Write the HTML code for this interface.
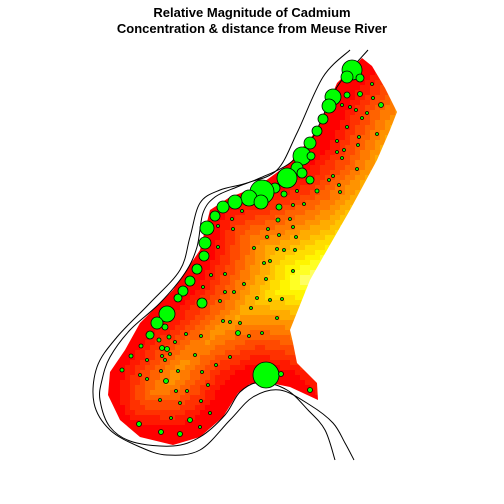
<!DOCTYPE html>
<html><head><meta charset="utf-8"><style>
html,body{margin:0;padding:0;background:#fff;}
svg{display:block;font-family:"Liberation Sans",Arial,sans-serif;}
</style></head><body>
<svg id="chart" width="504" height="504" viewBox="0 0 504 504">
<defs><clipPath id="clip"><polygon id="regionPoly" points=""/></clipPath></defs>
<text x="252" y="17" text-anchor="middle" font-size="13" font-weight="bold">Relative Magnitude of Cadmium</text>
<text x="252" y="33" text-anchor="middle" font-size="13" font-weight="bold">Concentration &amp; distance from Meuse River</text>
<g id="raster" clip-path="url(#clip)"></g>
<g id="rivers"></g>
<g id="bubbles"></g>
</svg>
<script>
const regionPts=[[362,58],[372,66],[385,88],[397,112],[390,130],[377,160],[350,210],[323,257],[310,280],[290,330],[293,343],[297,363],[317,383],[318,400],[290,387],[270,383],[250,384],[238,393],[223,417],[200,437],[173,445],[140,437],[120,420],[108,395],[110,372],[125,350],[140,323],[173,290],[200,250],[210,210],[230,197],[257,187],[290,163],[317,130],[337,83],[357,63]];
const riverA=[[350,50],[323,77],[297,133],[277,170],[247,183],[220,190],[200,203],[190,237],[180,270],[150,303],[117,337],[97,367],[94,403],[110,430],[140,447],[167,455],[200,450],[230,420],[253,397],[280,390],[310,405],[333,423],[345,443],[354,460]];
const riverB=[[368,50],[337,87],[313,137],[290,163],[260,178],[237,187],[215,197],[203,213],[197,247],[185,273],[160,303],[130,330],[110,357],[102,380],[100,400],[110,427],[133,442],[173,446],[200,437],[225,415],[240,392],[260,382],[287,390],[308,410],[325,430],[335,460]];
const bigX=[352,347,360,333,329,323,317,310,302,311,297,302,287,310,275,262,249,261,235,223,215,207,205,204,197,190,183,178,202,167,157,165,150,266,281,284,279,278,317];
const bigY=[70,77,78,97,106,119,131,143,156,156,168,173,178,180,188,192,198,202,202,207,216,228,243,256,269,281,291,298,303,314,323,327,335,375,374,194,207,220,191];
const bigR=[10,6,4,8,7,5,5,6,9,4,6,5,10,4,5,12,8,7,7,6,5,7,6,5,5,5,5,4,5,8,6,3,4,13,2.5,3,3,2,2];
const smallX=[372,347,360,373,381,350,342,356,367,362,347,359,337,377,358,344,337,342,357,333,329,339,340,297,304,293,242,232,290,293,268,218,233,279,267,296,218,254,277,284,295,270,264,293,225,211,266,244,203,234,225,257,270,282,220,251,277,223,230,240,238,262,249,201,186,169,159,175,141,162,167,170,195,230,131,162,147,165,216,122,178,161,202,140,147,166,208,310,176,187,160,180,201,210,171,190,139,200,161,180];
const smallY=[84,95,94,98,105,107,105,110,113,118,127,137,141,134,145,150,152,158,169,176,180,185,192,191,204,205,211,219,219,227,229,226,229,235,237,237,247,248,249,250,250,261,263,271,274,275,279,284,287,292,292,298,300,299,301,308,318,321,322,323,333,333,336,336,334,337,340,342,346,348,349,354,355,357,356,356,360,360,365,370,371,371,372,375,379,381,385,390,391,391,400,403,401,413,418,420,424,427,432,434];
const smallR=[1.5,3,2.5,1.5,2.5,1.5,1.5,1.5,1.5,1.5,1.5,1.5,1.5,1.5,1.5,1.5,1.5,1.5,1.5,1.5,1.5,1.5,1.5,1.5,1.5,1.5,1.5,1.5,1.5,1.5,1.5,1.5,1.5,1.5,1.5,1.5,1.5,1.5,1.5,1.5,1.5,1.5,1.5,1.5,1.5,1.5,1.5,1.5,1.5,1.5,1.5,1.5,1.5,1.5,1.5,1.5,1.5,1.5,1.5,1.5,2.5,1.5,1.5,1.5,1.5,2,2,1.5,2,2.5,2.5,1.5,1.5,1.5,2,1.5,1.5,1.5,1.5,2,1.5,1.5,1.5,1.5,1.5,2.5,1.5,2.5,1.5,1.5,1.5,1.5,1.5,1.5,1.5,2.5,2.5,1.5,2.5,2.5];
const NS="http://www.w3.org/2000/svg";
function smooth(pts){
 const n=pts.length;const P=i=>pts[Math.max(0,Math.min(n-1,i))];
 let d='M'+pts[0][0]+','+pts[0][1];
 for(let i=0;i<n-1;i++){const p0=P(i-1),p1=P(i),p2=P(i+1),p3=P(i+2);
  const c1=[p1[0]+(p2[0]-p0[0])/6,p1[1]+(p2[1]-p0[1])/6],c2=[p2[0]-(p3[0]-p1[0])/6,p2[1]-(p3[1]-p1[1])/6];
  d+=' C'+c1.join(',')+' '+c2.join(',')+' '+p2.join(',');}
 return d;}
document.getElementById('regionPoly').setAttribute('points',regionPts.map(p=>p.join(',')).join(' '));
function segDist(px,py,a,b){const dx=b[0]-a[0],dy=b[1]-a[1];let t=((px-a[0])*dx+(py-a[1])*dy)/(dx*dx+dy*dy);t=Math.max(0,Math.min(1,t));const x=a[0]+t*dx-px,y=a[1]+t*dy-py;return Math.sqrt(x*x+y*y);}
function dist(px,py){let m=1e9;for(let i=0;i<riverB.length-1;i++)m=Math.min(m,segDist(px,py,riverB[i],riverB[i+1]));return m;}
function heat(t){const n=14;let k=Math.min(n-1,Math.floor(t*n));let u=k/(n-1);
 if(u<0.8){const g=Math.round(255*u/0.8);return 'rgb(255,'+g+',0)';}
 const b=Math.round(160*(u-0.8)/0.2);return 'rgb(255,255,'+b+')';}
const raster=document.getElementById('raster');
const cs=5;
for(let y=55;y<450;y+=cs){for(let x=100;x<400;x+=cs){
 const d=dist(x+cs/2,y+cs/2);const t=Math.max(0,(d-11)/112);
 const r=document.createElementNS(NS,'rect');
 
 
 r.setAttribute('x',x);r.setAttribute('y',y);r.setAttribute('width',cs);r.setAttribute('height',cs);
 r.setAttribute('fill',heat(Math.min(1,t)));raster.appendChild(r);}}
const rivers=document.getElementById('rivers');
[riverA,riverB].forEach((ln,i)=>{const p=document.createElementNS(NS,'path');
 
 
 p.setAttribute('d',smooth(ln));p.setAttribute('fill','none');p.setAttribute('stroke','#000');p.setAttribute('stroke-width','1');rivers.appendChild(p);});
const bub=document.getElementById('bubbles');
function addB(x,y,r){const c=document.createElementNS(NS,'circle');
 
 
 c.setAttribute('cx',x);c.setAttribute('cy',y);c.setAttribute('r',r);c.setAttribute('fill','#00ff00');c.setAttribute('stroke','#000');c.setAttribute('stroke-width','0.8');bub.appendChild(c);}
for(let i=0;i<smallX.length;i++)addB(smallX[i],smallY[i],smallR[i]);
for(let i=0;i<bigX.length;i++)addB(bigX[i],bigY[i],bigR[i]);
</script>
</body></html>
